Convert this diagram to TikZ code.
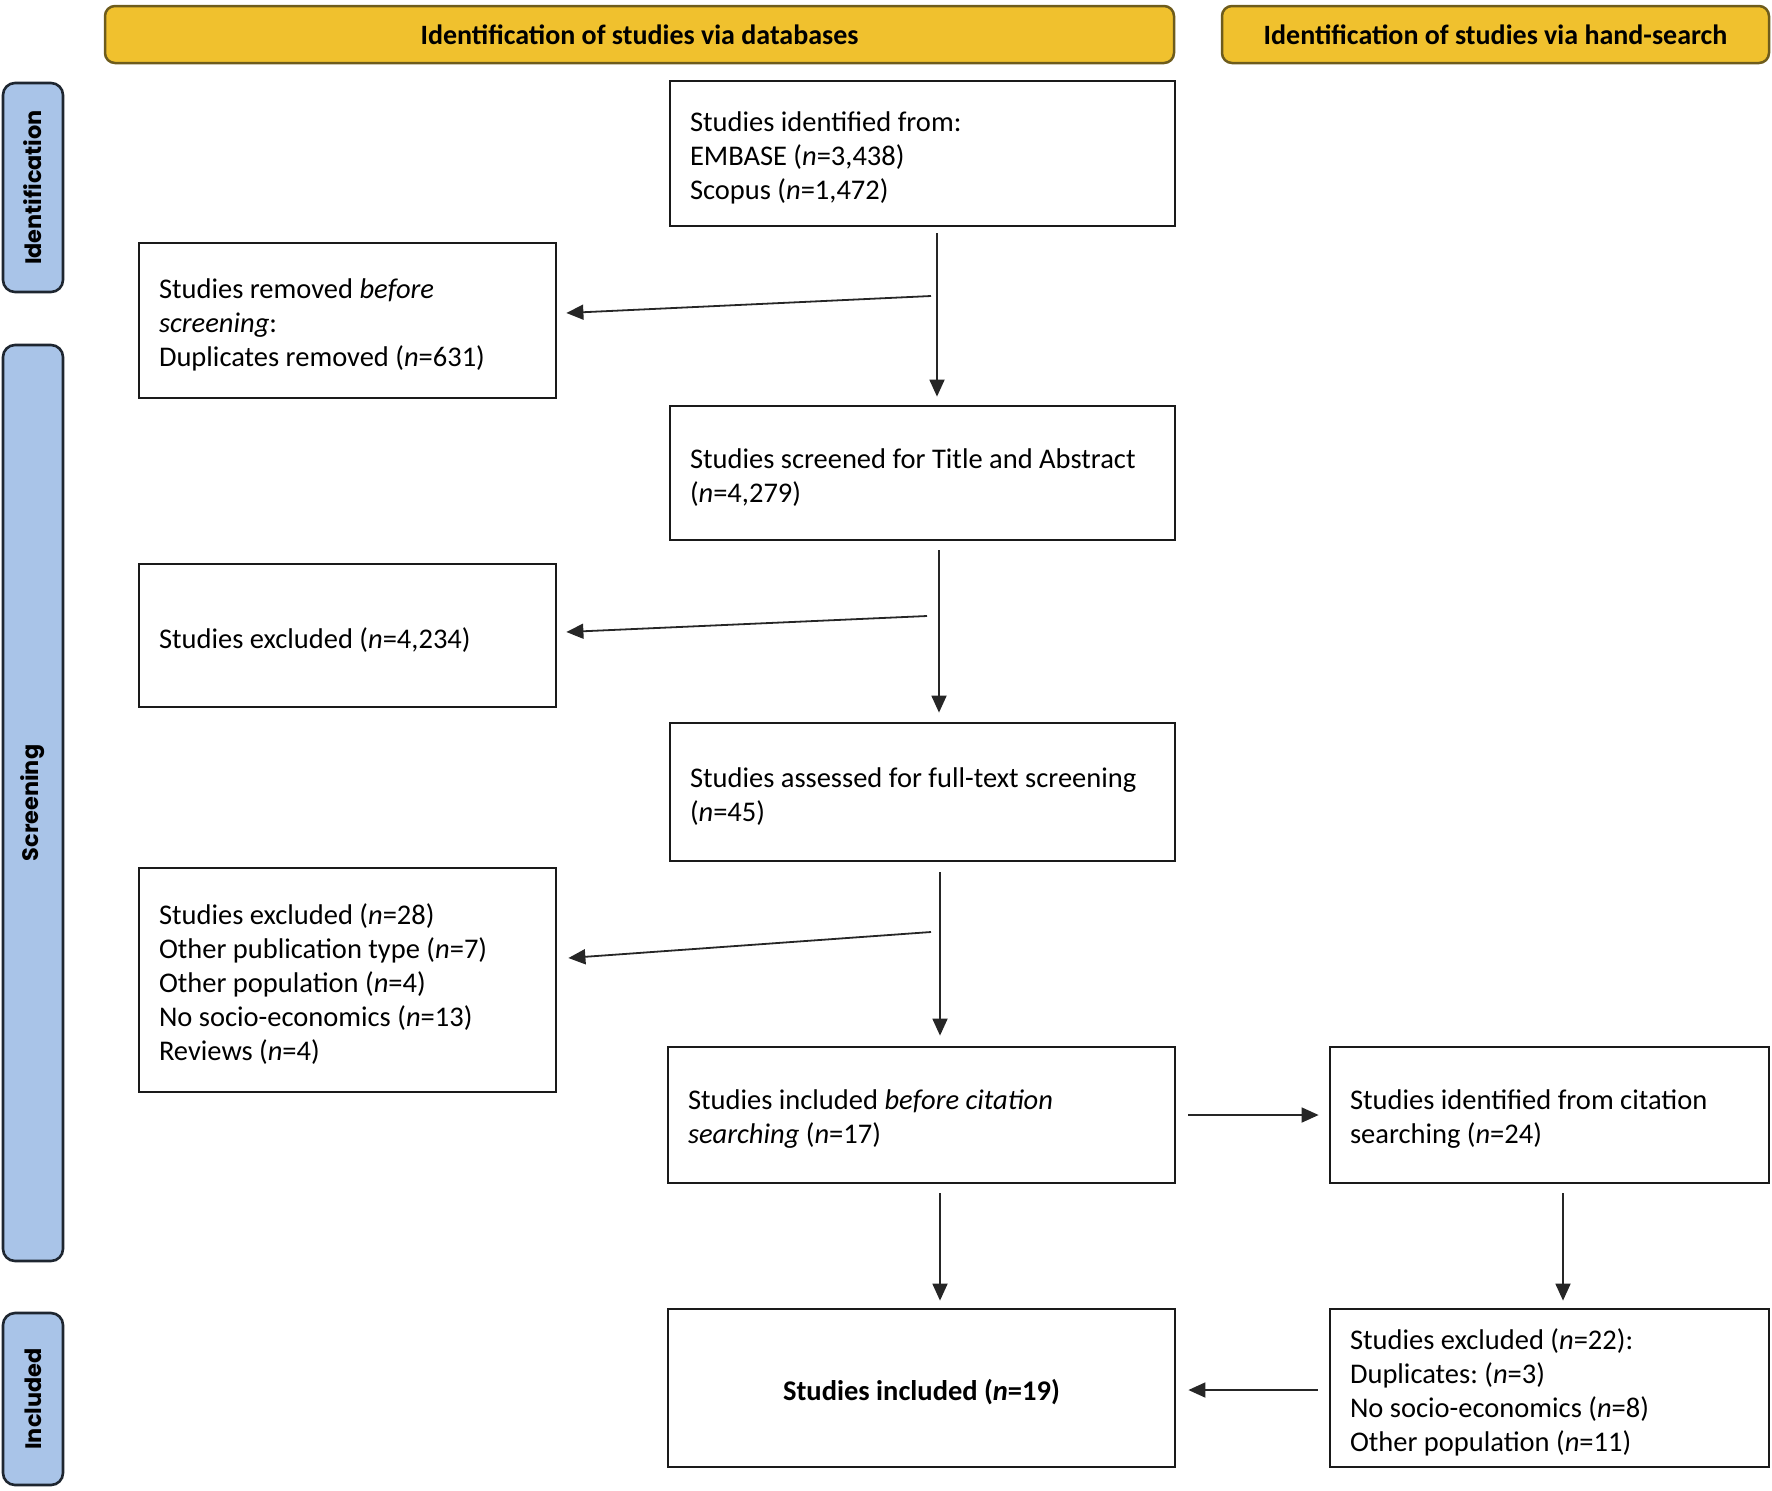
\documentclass[tikz,border=0pt]{standalone}
\usepackage{fontspec}
\setmainfont{Carlito}
\newfontfamily\sidefont{Poppins}
\usetikzlibrary{arrows.meta,calc}
\definecolor{bannerfill}{HTML}{F0C12E}
\definecolor{bannerline}{HTML}{6E5C1C}
\definecolor{sidefill}{HTML}{A9C4E8}
\definecolor{sideline}{HTML}{1E2630}
\definecolor{boxline}{HTML}{1A1A1A}
\definecolor{arrline}{HTML}{262626}
\frenchspacing
\tikzset{
  banner/.style={draw=bannerline, fill=bannerfill, line width=1.25pt, rounded corners=5pt,
    inner sep=0pt, font=\fontsize{14}{17}\selectfont\bfseries},
  sidelabel/.style={draw=sideline, fill=sidefill, line width=1.3pt, rounded corners=6pt,
    inner sep=0pt, rotate=90, minimum height=30pt, font=\sidefont\bfseries\fontsize{11.2}{13}\selectfont},
  flowbox/.style={draw=boxline, line width=1.4pt, inner sep=0pt},
  flowtext/.style={inner xsep=10pt, inner ysep=0pt, align=flush left, font=\fontsize{14.25}{17}\selectfont},
  arr/.style={draw=arrline, line width=0.9pt, -{Triangle[length=8.5pt,width=7.5pt]}},
}
\begin{document}
\begin{tikzpicture}[x=0.5pt,y=-0.5pt]
\useasboundingbox (0,0) rectangle (1772,1490);
% banners
\node[banner, minimum width=534.5pt, minimum height=28.5pt] (b1) at (639.5,34.5) {Identification of studies via databases};
\node[banner, minimum width=273.5pt, minimum height=28.5pt] (b2) at (1495.5,34.5) {Identification of studies via hand-search};
% side labels
\node[sidelabel, minimum width=104.5pt] (sid) at (33,187.5) {Identification};
\node[sidelabel, minimum width=458pt] (sscr) at (33,803) {Screening};
\node[sidelabel, minimum width=86pt] (sinc) at (33,1399) {Included};
% boxes
\node[flowbox, minimum width=252.5pt, minimum height=72.5pt] (A) at (922.5,153.5) {};
\node[flowbox, minimum width=208.5pt, minimum height=77.5pt] (B) at (347.5,320.5) {};
\node[flowbox, minimum width=252.5pt, minimum height=67pt] (C) at (922.5,473) {};
\node[flowbox, minimum width=208.5pt, minimum height=71.5pt] (D) at (347.5,635.5) {};
\node[flowbox, minimum width=252.5pt, minimum height=69pt] (E) at (922.5,792) {};
\node[flowbox, minimum width=208.5pt, minimum height=112pt] (F) at (347.5,980) {};
\node[flowbox, minimum width=253.5pt, minimum height=68pt] (G) at (921.5,1115) {};
\node[flowbox, minimum width=219.5pt, minimum height=68pt] (H) at (1549.5,1115) {};
\node[flowbox, minimum width=253.5pt, minimum height=79pt] (I) at (921.5,1388) {};
\node[flowbox, minimum width=219.5pt, minimum height=79pt] (J) at (1549.5,1388) {};
% box texts
\node[flowtext, text width=232.5pt] (At) at ($(A.center)+(0,4.5)$)
  {Studies identified from:\\EMBASE (\textit{n}=3,438)\\Scopus (\textit{n}=1,472)};
\node[flowtext, text width=188.5pt] (Bt) at ($(B.center)+(0,4.5)$)
  {Studies removed \textit{before}\\\textit{screening}:\\Duplicates removed (\textit{n}=631)};
\node[flowtext, text width=232.5pt] (Ct) at ($(C.center)+(0,4.5)$)
  {Studies screened for Title and Abstract\\(\textit{n}=4,279)};
\node[flowtext, text width=188.5pt] (Dt) at ($(D.center)+(0,4.5)$)
  {Studies excluded (\textit{n}=4,234)};
\node[flowtext, text width=232.5pt] (Et) at ($(E.center)+(0,4.5)$)
  {Studies assessed for full-text screening\\(\textit{n}=45)};
\node[flowtext, text width=188.5pt] (Ft) at ($(F.center)+(0,4.5)$)
  {Studies excluded (\textit{n}=28)\\Other publication type (\textit{n}=7)\\Other population (\textit{n}=4)\\No socio-economics (\textit{n}=13)\\Reviews (\textit{n}=4)};
\node[flowtext, text width=233.5pt] (Gt) at ($(G.center)+(0,4.5)$)
  {Studies included \textit{before citation}\\\textit{searching} (\textit{n}=17)};
\node[flowtext, text width=199.5pt] (Ht) at ($(H.center)+(0,4.5)$)
  {Studies identified from citation\\searching (\textit{n}=24)};
\node[flowtext, text width=233.5pt, align=flush center] (It) at ($(I.center)+(0,4.5)$)
  {\textbf{Studies included (\textit{n}=19)}};
\node[flowtext, text width=199.5pt] (Jt) at ($(J.center)+(0,4.5)$)
  {Studies excluded (\textit{n}=22):\\Duplicates: (\textit{n}=3)\\No socio-economics (\textit{n}=8)\\Other population (\textit{n}=11)};
% connector start points on the vertical lines
\coordinate (s1) at (931,296);
\coordinate (s2) at (927,616);
\coordinate (s3) at (931,932);
% connectors
\draw[arr] ($(A.south)+(14.5,6)$) -- ($(C.north)+(14.5,-8)$);
\draw[arr] (s1) -- ($(B.east)+(9,-7.5)$);
\draw[arr] ($(C.south)+(16.5,9)$) -- ($(E.north)+(16.5,-9)$);
\draw[arr] (s2) -- ($(D.east)+(9,-3.5)$);
\draw[arr] ($(E.south)+(17.5,10)$) -- ($(G.north)+(18.5,-10)$);
\draw[arr] (s3) -- ($(F.east)+(11,-22)$);
\draw[arr] ($(G.east)+(12,0)$) -- ($(H.west)+(-10,0)$);
\draw[arr] ($(G.south)+(18.5,9)$) -- ($(I.north)+(18.5,-7)$);
\draw[arr] ($(H.south)+(13.5,9)$) -- ($(J.north)+(13.5,-7)$);
\draw[arr] ($(J.west)+(-11,2)$) -- ($(I.east)+(12,2)$);
\end{tikzpicture}
\end{document}
